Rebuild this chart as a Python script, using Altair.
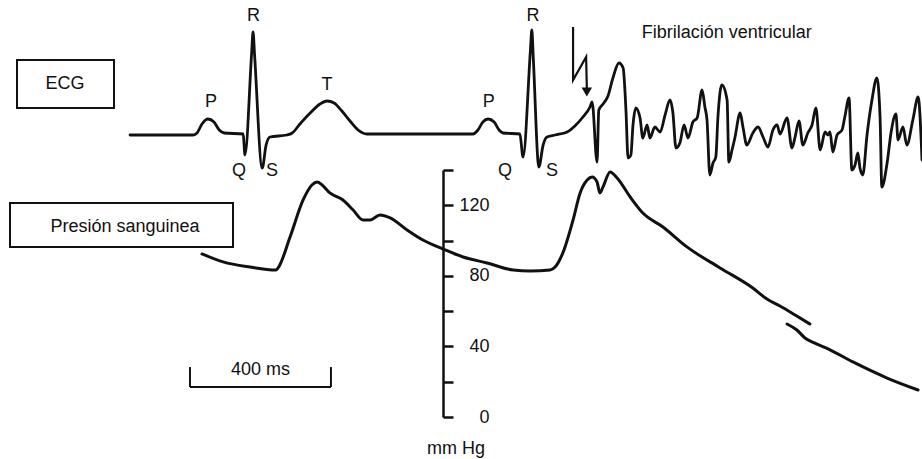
import altair as alt
import pandas as pd

FONT = "Liberation Sans"
INK = "#111111"

# ---------------- data ----------------
# ECG trace: time (ms) and voltage (mV)
ecg_ms = [0, 179, 190, 204, 221, 238, 253, 267, 321, 326, 345, 349, 353, 375, 386, 397, 445,
          460, 482, 511, 539, 559, 579, 601, 624, 647, 672, 973, 987, 1001, 1016, 1033,
          1047, 1058, 1106, 1115, 1136, 1140, 1144, 1160, 1172, 1183, 1206, 1240, 1262,
          1285, 1305, 1311, 1325, 1330, 1342, 1356, 1370, 1387, 1399, 1407, 1413, 1421,
          1427, 1435, 1447, 1455, 1467, 1475, 1489, 1504, 1518, 1532, 1540, 1549, 1560,
          1572, 1583, 1597, 1609, 1623, 1631, 1637, 1645, 1654, 1662, 1668, 1679, 1694,
          1699, 1708, 1716, 1731, 1739, 1750, 1767, 1782, 1796, 1810, 1824, 1836, 1844,
          1864, 1878, 1887, 1898, 1909, 1923, 1935, 1946, 1958, 1972, 1980, 1986, 1994,
          2006, 2020, 2028, 2040, 2048, 2057, 2065, 2071, 2079, 2091, 2105, 2119, 2128,
          2133, 2148, 2159, 2173, 2179, 2193, 2204, 2221, 2236, 2247]
ecg_mv = [0, 0, 0.02, 0.11, 0.16, 0.13, 0.05, 0.02, 0.01, -0.20, 0.82, 1.03, 0.82, -0.33,
          -0.10, -0.02, 0, 0.02, 0.11, 0.22, 0.31, 0.34, 0.32, 0.24, 0.14, 0.05, 0.01, 0.01,
          0.05, 0.13, 0.16, 0.13, 0.05, 0.02, 0.01, -0.22, 0.85, 1.05, 0.78, -0.32, -0.10,
          -0.02, 0, 0.03, 0.09, 0.18, 0.28, 0.33, -0.27, 0.25, 0.31, 0.39, 0.57, 0.72, 0.67,
          0.25, -0.23, -0.20, 0.10, 0.27, 0.17, -0.03, 0.10, -0.03, 0.08, 0.03, 0.20, 0.35,
          0.23, -0.13, -0.08, 0.10, -0.03, 0.13, 0.17, 0.45, 0.28, 0.15, -0.40, -0.28, -0.22,
          0.18, 0.50, 0.35, -0.27, -0.15, -0.03, 0.22, 0.08, -0.10, 0.02, 0.08, -0.02, -0.12,
          0.05, 0.10, 0.01, 0.17, -0.13, -0.02, 0.14, -0.10, 0.02, 0.10, 0.27, -0.15, 0.03,
          0, 0.03, -0.17, 0, 0.05, 0.18, 0.37, -0.35, -0.30, -0.18, -0.33, -0.40, 0, 0.35,
          0.57, 0.18, -0.52, -0.28, 0.02, 0.21, -0.05, 0.08, -0.10, 0.15, 0.38, -0.25]

# Blood pressure trace (mm Hg), drawn in two pieces (broken near the end)
bp_ms_a = [204, 264, 340, 414, 420, 454, 491, 516, 531, 545, 567, 604, 633, 661, 681, 709,
           738, 786, 831, 888, 945, 1013, 1087, 1135, 1192, 1206, 1228, 1257, 1277, 1297,
           1311, 1325, 1333, 1342, 1362, 1382, 1419, 1455, 1512, 1580, 1674, 1767, 1807,
           1844, 1887, 1929]
bp_mmhg_a = [92.4, 87.9, 85.0, 83.3, 84.5, 102.0, 123.0, 131.5, 133.2, 131.5, 127.0, 123.0,
             117.3, 111.7, 111.7, 114.5, 112.8, 106.0, 100.3, 95.2, 90.7, 87.3, 83.3, 82.8,
             83.3, 85.0, 93.0, 111.7, 127.0, 134.3, 136.0, 133.2, 127.0, 130.4, 138.9, 135.5,
             124.7, 115.6, 107.7, 96.4, 84.5, 73.1, 66.9, 62.9, 57.8, 52.7]
bp_ms_b = [1864, 1892, 1915, 1943, 1986, 2051, 2148, 2236]
bp_mmhg_b = [52.7, 49.3, 44.8, 41.9, 38.0, 31.2, 22.1, 15.3]

# pressure axis
bp_ticks = [0, 20, 40, 60, 80, 100, 120, 140]

# ECG wave labels
wave_text = ["P", "Q", "R", "S", "T", "P", "Q", "R", "S"]
wave_ms = [230, 309, 350, 403, 559, 1018, 1064, 1143, 1197]
wave_mv = [0.28, -0.41, 1.14, -0.41, 0.45, 0.28, -0.41, 1.14, -0.41]

# shock (lightning arrow) and its label
shock_ms = [1257, 1257, 1294, 1296]
shock_mv = [1.08, 0.55, 0.78, 0.47]
arrow_ms = [1296]
arrow_mv = [0.43]
fib_label = "Fibrilación ventricular"
fib_ms = [1452]
fib_mv = [0.97]

# 400 ms time-scale bar
bar_start_ms = 170
bar_len_ms = 400
bar_mmhg = [17.0, 28.3]

# ---------------- scales ----------------
x_scale = alt.Scale(domain=[-369, 2247], nice=False, zero=False)
ecg_scale = alt.Scale(domain=[-1, 1], range=[235, 35], nice=False, zero=False)
bp_scale = alt.Scale(domain=[0, 140], range=[417, 170], nice=False, zero=False)


def X(field="t"):
    return alt.X(f"{field}:Q", scale=x_scale, axis=None)


ecg_df = pd.DataFrame({"t": ecg_ms, "v": ecg_mv})
bp_df = pd.concat([
    pd.DataFrame({"t": bp_ms_a, "p": bp_mmhg_a, "seg": "a"}),
    pd.DataFrame({"t": bp_ms_b, "p": bp_mmhg_b, "seg": "b"}),
])
wave_df = pd.DataFrame({"t": wave_ms, "v": wave_mv, "label": wave_text})
shock_df = pd.DataFrame({"t": shock_ms, "v": shock_mv, "i": list(range(len(shock_ms)))})
arrow_df = pd.DataFrame({"t": arrow_ms, "v": arrow_mv})
fib_df = pd.DataFrame({"t": fib_ms, "v": fib_mv, "label": [fib_label]})

bar_end = bar_start_ms + bar_len_ms
bar_h = pd.DataFrame({"t": [bar_start_ms], "t2": [bar_end], "p": [bar_mmhg[0]]})
bar_v = pd.DataFrame({"t": [bar_start_ms, bar_end], "p": [bar_mmhg[0]] * 2,
                      "p2": [bar_mmhg[1]] * 2})
bar_txt = pd.DataFrame({"t": [(bar_start_ms + bar_end) / 2], "p": [23.8],
                        "label": [f"{bar_len_ms} ms"]})

one = pd.DataFrame({"a": [0]})

bp_axis = alt.Axis(
    orient="right", offset=-479, values=bp_ticks,
    labelExpr="datum.value % 40 == 0 ? datum.label : ''",
    tickSize=10, tickWidth=2.5, tickColor=INK, domainWidth=2.5, domainColor=INK,
    labelFont=FONT, labelFontSize=18, labelColor=INK, labelAlign="right",
    labelPadding=36, labelOverlap=False, labelFlush=False, grid=False, title=None,
)

ecg = alt.Chart(ecg_df).mark_line(color=INK, strokeWidth=2.8, strokeJoin="round",
                                  strokeCap="round", interpolate="monotone").encode(
    x=X(), y=alt.Y("v:Q", scale=ecg_scale, axis=None))

bp = alt.Chart(bp_df).mark_line(color=INK, strokeWidth=3, interpolate="monotone",
                                strokeCap="round").encode(
    x=X(), y=alt.Y("p:Q", scale=bp_scale, axis=bp_axis), detail="seg:N")

txt_kw = dict(font=FONT, fontSize=18, color=INK, baseline="alphabetic")

waves = alt.Chart(wave_df).mark_text(align="center", **txt_kw).encode(
    x=X(), y=alt.Y("v:Q", scale=ecg_scale, axis=None), text="label:N")

shock = alt.Chart(shock_df).mark_line(color=INK, strokeWidth=2.2, strokeJoin="miter").encode(
    x=X(), y=alt.Y("v:Q", scale=ecg_scale, axis=None), order="i:Q")

arrow = alt.Chart(arrow_df).mark_point(shape="triangle-down", filled=True, color=INK,
                                       size=110, opacity=1).encode(
    x=X(), y=alt.Y("v:Q", scale=ecg_scale, axis=None))

fib = alt.Chart(fib_df).mark_text(align="left", **txt_kw).encode(
    x=X(), y=alt.Y("v:Q", scale=ecg_scale, axis=None), text="label:N")

bar1 = alt.Chart(bar_h).mark_rule(color=INK, strokeWidth=2).encode(
    x=X(), x2="t2:Q", y=alt.Y("p:Q", scale=bp_scale, axis=None))
bar2 = alt.Chart(bar_v).mark_rule(color=INK, strokeWidth=2).encode(
    x=X(), y=alt.Y("p:Q", scale=bp_scale, axis=None), y2="p2:Q")
bar3 = alt.Chart(bar_txt).mark_text(align="center", **txt_kw).encode(
    x=X(), y=alt.Y("p:Q", scale=bp_scale, axis=None), text="label:N")

box_ecg = alt.Chart(one).mark_rect(fill="white", stroke=INK, strokeWidth=2).encode(
    x=alt.value(17), x2=alt.value(114), y=alt.value(60), y2=alt.value(108))
box_ecg_t = alt.Chart(one).mark_text(text="ECG", align="center", **txt_kw).encode(
    x=alt.value(65), y=alt.value(89))
box_bp = alt.Chart(one).mark_rect(fill="white", stroke=INK, strokeWidth=2).encode(
    x=alt.value(10), x2=alt.value(233), y=alt.value(203), y2=alt.value(247))
box_bp_t = alt.Chart(one).mark_text(text="Presión sanguinea", align="center", **txt_kw).encode(
    x=alt.value(125), y=alt.value(232))
unit_t = alt.Chart(one).mark_text(text="mm Hg", align="center", **txt_kw).encode(
    x=alt.value(456), y=alt.value(454))

chart = alt.layer(
    bp, ecg, waves, shock, arrow, fib, bar1, bar2, bar3,
    box_ecg, box_ecg_t, box_bp, box_bp_t, unit_t,
).resolve_scale(y="independent").properties(
    width=922, height=459, padding=0,
    autosize=alt.AutoSizeParams(type="none"),
).configure(background="white").configure_view(stroke=None)

chart.save("out.html", embed_options={"renderer": "svg", "actions": False})
